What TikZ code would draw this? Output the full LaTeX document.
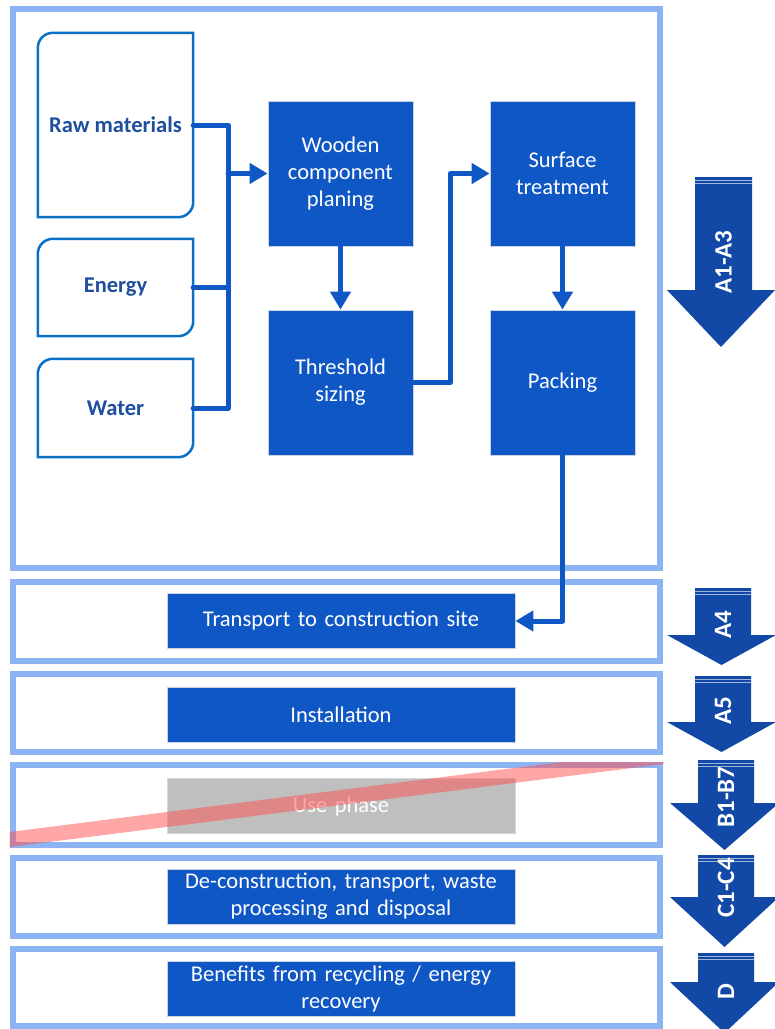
\documentclass[tikz,border=0pt]{standalone}
\usepackage{fontspec}
\setmainfont{Carlito}
\usetikzlibrary{arrows.meta,calc}
\definecolor{frameblue}{RGB}{141,180,242}
\definecolor{boxblue}{RGB}{15,87,197}
\definecolor{arrowblue}{RGB}{18,73,167}
\definecolor{inborder}{RGB}{10,112,196}
\definecolor{intext}{RGB}{30,78,158}
\definecolor{usegray}{RGB}{191,191,191}
\definecolor{bandred}{RGB}{255,80,80}
\definecolor{boxedge}{RGB}{200,210,225}
\newcommand\blockarrow[7]{%
  \fill[bigarrow] (#1,-#3) -- (#2,-#3) -- (#2,-#4) -- (#6,-#4) -- ({(#5+#6)/2},-#7) -- (#5,-#4) -- (#1,-#4) -- cycle;
  \draw[stripe] (#1,-#3-3) -- (#2,-#3-3);
  \draw[stripe] (#1,-#3-6) -- (#2,-#3-6);
}
\begin{document}
\begin{tikzpicture}[x=1pt,y=1pt,
  frame/.style={draw=frameblue,line width=6pt},
  proc/.style={fill=boxblue,draw=boxedge,line width=0.8pt,text=white,font=\fontsize{22.5}{27}\selectfont,align=center,inner sep=0pt},
  pbox/.style={proc,minimum width=145pt,minimum height=145pt,text width=140pt},
  wbox/.style={proc,minimum width=348pt,minimum height=55pt,text width=340pt},
  inbox/.style={minimum width=155pt,inner sep=0pt,text=intext,font=\bfseries\fontsize{22.5}{27}\selectfont},
  inline/.style={draw=inborder,line width=2.5pt},
  conn/.style={draw=boxblue,line width=5pt,line cap=round,line join=round},
  tip/.style={-{Triangle[length=18pt,width=20pt]}},
  bigarrow/.style={fill=arrowblue},
  stripe/.style={draw=white,line width=0.8pt,opacity=0.6},
  alabel/.style={text=white,font=\bfseries\fontsize{25}{30}\selectfont,rotate=90,inner sep=0pt}
]
\useasboundingbox (0,0) rectangle (775,-1029);

% frames
\draw[frame] (12.5,-9) rectangle (660,-568);
\draw[frame] (12.5,-581.5) rectangle (660,-661);
\draw[frame] (12.5,-674) rectangle (660,-751.5);
\draw[frame] (12.5,-765) rectangle (660,-844.5);
\draw[frame] (12.5,-858) rectangle (660,-936);
\draw[frame] (12.5,-948.5) rectangle (660,-1026);

% inputs
\node[inbox,minimum height=184pt] (raw) at (115.5,-125) {Raw materials};
\node[inbox,minimum height=97pt] (energy) at (115.5,-287.5) {Energy};
\node[inbox,minimum height=98pt] (water) at (115.5,-408) {Water};
\foreach \n in {raw,energy,water}{
  \draw[inline] (\n.north east) -- ([yshift=15pt]\n.south east) arc[start angle=0,end angle=-90,radius=15pt] -- (\n.south west) -- ([yshift=-15pt]\n.north west) arc[start angle=180,end angle=90,radius=15pt] -- cycle;
}

% process boxes
\node[pbox] (wood) at (340.5,-173.5) {Wooden\\component\\planing};
\node[pbox] (thresh) at (340.5,-382.5) {Threshold\\sizing};
\node[pbox] (surf) at (562.5,-173.5) {Surface\\treatment};
\node[pbox] (pack) at (562.5,-382.5) {Packing};

% stage boxes
\node[wbox] (trans) at (341,-621) {Transport to construction site};
\node[wbox] (inst) at (341,-714.5) {Installation};
\node[wbox,fill=usegray,draw={rgb,255:red,215;green,215;blue,215}] (use) at (341,-806) {Use phase};
\node[wbox] (decon) at (341,-896.5) {De-construction, transport, waste\\processing and disposal};
\node[wbox] (ben) at (341,-988.5) {Benefits from recycling / energy\\recovery};

% connectors
\coordinate (J) at (228,-173.5);
\draw[conn] (raw.east) -| (J);
\draw[conn] (energy.east) -| (J);
\draw[conn] (water.east) -| (J);
\draw[conn,tip] (J) -- (wood.west);
\draw[conn,tip] (wood.south) -- (thresh.north);
\draw[conn,tip] (thresh.east) -- ++(37,0) |- (surf.west);
\draw[conn,tip] (surf.south) -- (pack.north);
\draw[conn,tip] (pack.south) |- (trans.east);

% big stage arrows
\blockarrow{695}{752}{177}{290}{667}{775}{347}
\blockarrow{695}{751}{588}{635}{667}{776}{665}
\blockarrow{695}{751}{676}{722}{667}{776}{752}
\blockarrow{698}{754}{760}{803}{670}{779}{850}
\blockarrow{698}{754}{855}{897}{670}{779}{947}
\blockarrow{698}{754}{953}{982}{670}{779}{1033}
\node[alabel] (la13) at (723.5,-262) {A1-A3};
\node[alabel] (la4) at (723,-625) {A4};
\node[alabel] (la5) at (723,-711) {A5};
\node[alabel] (lb) at (726,-797) {B1-B7};
\node[alabel] (lc) at (726,-888) {C1-C4};
\node[alabel] (ld) at (726,-992) {D};

% crossed-out band
\begin{scope}
\clip (9.5,-762) rectangle (663.5,-848);
\fill[bandred,fill opacity=0.5] (9.5,-832) -- (663.5,{-832+83}) -- (663.5,{-847+83}) -- (9.5,-847) -- cycle;
\end{scope}
\end{tikzpicture}
\end{document}
